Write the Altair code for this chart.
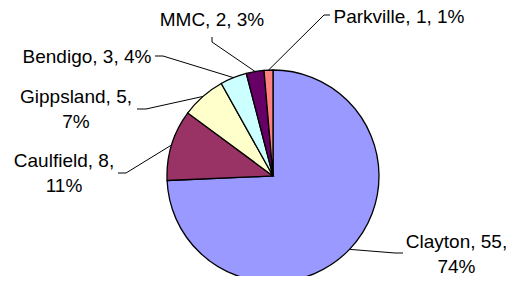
import altair as alt
import pandas as pd
import numpy as np

# ---- data ----
campuses = ["Clayton", "Caulfield", "Gippsland", "Bendigo", "MMC", "Parkville"]
counts = [55, 8, 5, 3, 2, 1]
percents = ["74%", "11%", "7%", "4%", "3%", "1%"]
colors = ["#9999FF", "#993366", "#FFFFCC", "#CCFFFF", "#660066", "#FF8080"]

# ---- layout (pixel positions in the plot area) ----
CX, CY, R = 265, 168, 106
label_x = [448.5, 56, 68, 79, 204, 391]
label_y = [240, 159, 95, 55, 18, 15]
label_multiline = [True, True, True, False, False, False]
anchor_pts = [(395, 245), (110, 165), (129, 101), (147, 48), (204, 29), (322, 7)]
elbow_pts = [(387, 245), (118, 165), (138, 101), (155, 48), (204, 34), (316, 7)]

total = sum(counts)
labels = []
for c, n, p, m in zip(campuses, counts, percents, label_multiline):
    labels.append(f"{c}, {n},\n{p}" if m else f"{c}, {n}, {p}")

pie_df = pd.DataFrame({"campus": campuses, "count": counts, "idx": range(len(campuses))})

# edge points at each slice's mid-angle (clockwise from 12 o'clock)
cum = np.cumsum(counts)
mid = (cum - np.array(counts) / 2) / total * 2 * np.pi
edge_x = CX + R * np.sin(mid)
edge_y = CY - R * np.cos(mid)

rows = []
for i, c in enumerate(campuses):
    pts = [anchor_pts[i], elbow_pts[i], (edge_x[i], edge_y[i])]
    for s, (px, py) in enumerate(pts):
        rows.append({"campus": c, "step": s, "px": px, "py": py})
lead_df = pd.DataFrame(rows)

text_df = pd.DataFrame({"label": labels, "tx": label_x, "ty": label_y})

pie = alt.Chart(pie_df).mark_arc(outerRadius=R, stroke="black", strokeWidth=1.3).encode(
    theta=alt.Theta("count:Q", stack=True),
    color=alt.Color("campus:N", scale=alt.Scale(domain=campuses, range=colors), legend=None),
    order=alt.Order("idx:Q", sort="ascending"),
    x=alt.value(CX),
    y=alt.value(CY),
)

leaders = alt.Chart(lead_df).mark_line(color="black", strokeWidth=1).encode(
    x=alt.X("px:Q", scale=None, axis=None),
    y=alt.Y("py:Q", scale=None, axis=None),
    detail="campus:N",
    order="step:Q",
)

texts = alt.Chart(text_df).mark_text(
    font="Liberation Sans", fontSize=19, lineBreak="\n", lineHeight=25,
    align="center", baseline="alphabetic", color="black",
).encode(
    x=alt.X("tx:Q", scale=None, axis=None),
    y=alt.Y("ty:Q", scale=None, axis=None),
    text="label:N",
)

chart = alt.layer(pie, leaders, texts).properties(
    width=499, height=268, autosize="none", padding=0
).configure_view(stroke=None)

chart.save("out.html", embed_options={"renderer": "svg", "actions": False})
